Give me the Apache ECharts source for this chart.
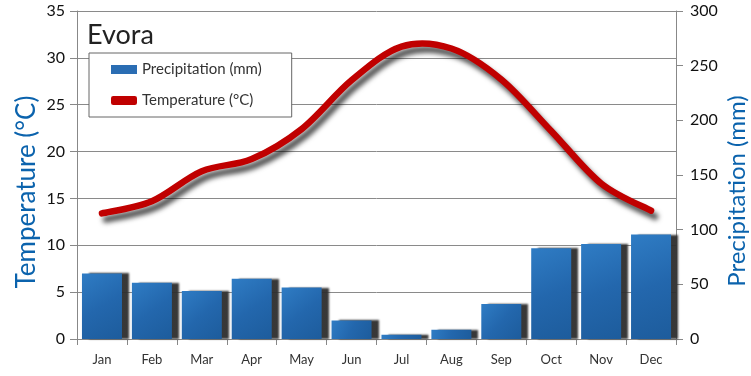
<!DOCTYPE html>
<html><head><meta charset="utf-8">
<script src="https://cdn.jsdelivr.net/npm/echarts@6/dist/echarts.min.js"></script>
<style>html,body{margin:0;padding:0;background:#fff}#c{width:751px;height:376px}</style>
</head><body><div id="c"></div>
<script>
const months = ['Jan','Feb','Mar','Apr','May','Jun','Jul','Aug','Sep','Oct','Nov','Dec'];
const precipitation = [60, 51.5, 44, 55, 47, 17, 4, 8.5, 32, 83, 87, 95.5];
const temperature = [13.4, 14.7, 17.9, 19.2, 22.4, 27.6, 31.2, 31.0, 27.7, 22.2, 16.6, 13.7];
const tempTicks = [0, 35, 5];
const precTicks = [0, 300, 50];
const title = 'Evora';
const seriesNames = ['Precipitation (mm)', 'Temperature (°C)'];

const FONT = 'Lato, "Open Sans", sans-serif';
const tempData = temperature.map((v, i) => [i, v]);

function renderTemp(params, api) {
  if (params.dataIndex !== 0) return null;
  const pts = tempData.map(d => api.coord(d));
  const n = pts.length;
  let path = 'M' + pts[0][0] + ',' + pts[0][1];
  for (let i = 0; i < n - 1; i++) {
    const p0 = pts[Math.max(i - 1, 0)], p1 = pts[i], p2 = pts[i + 1], p3 = pts[Math.min(i + 2, n - 1)];
    const c1 = [p1[0] + (p2[0] - p0[0]) / 6, p1[1] + (p2[1] - p0[1]) / 6];
    const c2 = [p2[0] - (p3[0] - p1[0]) / 6, p2[1] - (p3[1] - p1[1]) / 6];
    path += ' C' + c1[0] + ',' + c1[1] + ' ' + c2[0] + ',' + c2[1] + ' ' + p2[0] + ',' + p2[1];
  }
  return {
    type: 'path',
    shape: {pathData: path},
    style: {fill: null, stroke: '#c00000', lineWidth: 6.5, lineCap: 'round', lineJoin: 'round',
      shadowColor: 'rgba(0,0,0,0.7)', shadowOffsetX: 4, shadowOffsetY: 6, shadowBlur: 5}
  };
}

const chart = echarts.init(document.getElementById('c'), null, {renderer: 'canvas'});
chart.setOption({
  animation: false,
  textStyle: {fontFamily: FONT},
  grid: {left: 77, right: 75, top: 11, bottom: 37, containLabel: false},
  title: {text: title, left: 82, top: 17, textStyle: {fontFamily: FONT, fontSize: 27, fontWeight: 'normal', color: '#222'}},
  legend: {
    left: 89, top: 53, orient: 'vertical',
    backgroundColor: '#fff', borderColor: '#666', borderWidth: 1,
    padding: [9, 30, 9, 22], itemGap: 16, itemWidth: 26, itemHeight: 9,
    textStyle: {fontFamily: FONT, fontSize: 15, color: '#333'},
    data: [
      {name: seriesNames[0], icon: 'rect', itemStyle: {color: '#2a6db3'}},
      {name: seriesNames[1], icon: 'roundRect', itemStyle: {color: '#c00000'}}
    ]
  },
  xAxis: {
    type: 'category', data: months,
    axisLine: {lineStyle: {color: '#888'}},
    axisTick: {show: true, length: 6, lineStyle: {color: '#888'}},
    axisLabel: {color: '#333', fontSize: 13, margin: 14, fontFamily: FONT}
  },
  yAxis: [
    {type: 'value', min: tempTicks[0], max: tempTicks[1], interval: tempTicks[2], position: 'left',
     axisLine: {show: true, lineStyle: {color: '#888'}},
     axisTick: {show: true, length: 7, lineStyle: {color: '#888'}},
     axisLabel: {color: '#111', fontSize: 16, margin: 12, fontFamily: FONT},
     splitLine: {show: true, lineStyle: {color: '#8a8a8a', width: 1}}},
    {type: 'value', min: precTicks[0], max: precTicks[1], interval: precTicks[2], position: 'right',
     axisLine: {show: true, lineStyle: {color: '#888'}},
     axisTick: {show: true, length: 7, lineStyle: {color: '#888'}},
     axisLabel: {color: '#111', fontSize: 16, margin: 14, fontFamily: FONT},
     splitLine: {show: false}}
  ],
  series: [
    {name: seriesNames[0], type: 'bar', yAxisIndex: 1, data: precipitation, barWidth: 40,
     itemStyle: {
       color: new echarts.graphic.LinearGradient(0, 0, 1, 1, [
         {offset: 0, color: '#2f7cc4'}, {offset: 0.5, color: '#2367ad'}, {offset: 1, color: '#1d5c9c'}]),
       shadowColor: 'rgba(45,45,45,0.95)', shadowOffsetX: 7, shadowOffsetY: 0, shadowBlur: 2
     }},
    {name: seriesNames[1], type: 'custom', yAxisIndex: 0, data: tempData, z: 5,
     encode: {x: 0, y: 1}, renderItem: renderTemp, itemStyle: {color: '#c00000'}, clip: false}
  ],
  graphic: [
    {type: 'text', x: 27, y: 192, rotation: Math.PI / 2, style: {text: 'Temperature (°C)', font: '26px ' + FONT, fill: '#0b63ad', align: 'center', verticalAlign: 'middle'}},
    {type: 'text', x: 737, y: 191, rotation: Math.PI / 2, style: {text: 'Precipitation (mm)', font: '24px ' + FONT, fill: '#0b63ad', align: 'center', verticalAlign: 'middle'}}
  ]
});
</script></body></html>
